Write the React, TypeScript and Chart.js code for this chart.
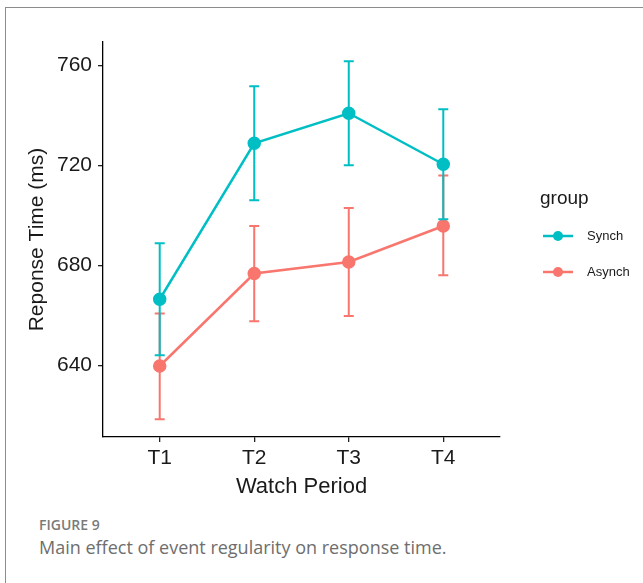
import React, { useEffect, useRef } from "react";
import { Chart, registerables } from "chart.js";

Chart.register(...registerables);

const categories = ["T1", "T2", "T3", "T4"];
const yTicks = [640, 680, 720, 760];
const seriesNames = ["Synch", "Asynch"];
const synchMean = [666.4, 728.8, 740.8, 720.4];
const synchLow = [644, 706, 720, 698.4];
const synchHigh = [688.8, 751.6, 761.6, 742.4];
const asynchMean = [639.7, 676.7, 681.3, 695.7];
const asynchLow = [618.4, 657.6, 659.7, 676];
const asynchHigh = [660.7, 695.7, 702.9, 715.9];

const TEAL = "#00BFC4";
const SALMON = "#F8766D";
const FONT = "'Liberation Sans', Arial, sans-serif";

const errLow = [synchLow, asynchLow];
const errHigh = [synchHigh, asynchHigh];

const errorBarPlugin = {
  id: "errorBars",
  beforeDatasetDraw(chart: any, args: any) {
    const i = args.index;
    const ds = chart.data.datasets[i];
    const xs = chart.scales.x;
    const ys = chart.scales.y;
    const ctx = chart.ctx;
    ctx.save();
    ctx.strokeStyle = ds.borderColor;
    ctx.lineWidth = 2;
    const lows = errLow[i];
    const highs = errHigh[i];
    for (let k = 0; k < lows.length; k++) {
      const x = xs.getPixelForValue(k);
      const y1 = ys.getPixelForValue(lows[k]);
      const y2 = ys.getPixelForValue(highs[k]);
      ctx.beginPath();
      ctx.moveTo(x, y1);
      ctx.lineTo(x, y2);
      ctx.moveTo(x - 5, y1);
      ctx.lineTo(x + 5, y1);
      ctx.moveTo(x - 5, y2);
      ctx.lineTo(x + 5, y2);
      ctx.stroke();
    }
    ctx.restore();
  },
};

const legendPlugin = {
  id: "customLegend",
  afterDraw(chart: any) {
    const ctx = chart.ctx;
    ctx.save();
    ctx.fillStyle = "#1a1a1a";
    ctx.textBaseline = "alphabetic";
    ctx.textAlign = "left";
    ctx.font = `19px ${FONT}`;
    ctx.fillText("group", 540, 204);
    const ys = [236, 272];
    const colors = [TEAL, SALMON];
    ctx.font = `13px ${FONT}`;
    for (let i = 0; i < 2; i++) {
      ctx.strokeStyle = colors[i];
      ctx.fillStyle = colors[i];
      ctx.lineWidth = 2.5;
      ctx.beginPath();
      ctx.moveTo(543, ys[i]);
      ctx.lineTo(573, ys[i]);
      ctx.stroke();
      ctx.beginPath();
      ctx.arc(558, ys[i], 5, 0, Math.PI * 2);
      ctx.fill();
      ctx.fillStyle = "#1a1a1a";
      ctx.textBaseline = "middle";
      ctx.fillText(seriesNames[i], 587, ys[i]);
    }
    ctx.restore();
  },
};

export default function App() {
  const ref = useRef<HTMLCanvasElement>(null);

  useEffect(() => {
    if (!ref.current) return;
    const chart = new Chart(ref.current, {
      type: "line",
      data: {
        datasets: [
          {
            label: seriesNames[0],
            data: synchMean.map((v, i) => ({ x: i, y: v })),
            borderColor: TEAL,
            backgroundColor: TEAL,
            borderWidth: 2.5,
            pointRadius: 5.5,
            pointHoverRadius: 5.5,
            tension: 0,
          },
          {
            label: seriesNames[1],
            data: asynchMean.map((v, i) => ({ x: i, y: v })),
            borderColor: SALMON,
            backgroundColor: SALMON,
            borderWidth: 2.5,
            pointRadius: 5.5,
            pointHoverRadius: 5.5,
            tension: 0,
          },
        ],
      },
      options: {
        animation: false,
        responsive: false,
        devicePixelRatio: 1,
        events: [],
        layout: { padding: { left: 21, top: 42, right: 143, bottom: 6 } },
        plugins: {
          legend: { display: false },
          tooltip: { enabled: false },
        },
        scales: {
          x: {
            type: "linear",
            min: -0.6,
            max: 3.6,
            afterFit: (s: any) => {
              s.height = 67;
            },
            afterBuildTicks: (s: any) => {
              s.ticks = categories.map((_, i) => ({ value: i }));
            },
            ticks: {
              callback: (v: any) => categories[v] ?? "",
              color: "#1a1a1a",
              font: { family: FONT, size: 21 },
              padding: 4,
              autoSkip: false,
              maxRotation: 0,
            },
            grid: {
              display: true,
              drawOnChartArea: false,
              drawTicks: true,
              tickLength: 5,
              color: "#222",
              lineWidth: 1.3,
            },
            border: { display: true, color: "#000", width: 1.3 },
            title: {
              display: true,
              text: "Watch Period",
              color: "#1a1a1a",
              font: { family: FONT, size: 22 },
              padding: { top: 4, bottom: 4 },
            },
          },
          y: {
            type: "linear",
            min: 611.3,
            max: 769.3,
            afterFit: (s: any) => {
              s.width = 82;
            },
            afterBuildTicks: (s: any) => {
              s.ticks = yTicks.map((v) => ({ value: v }));
            },
            ticks: {
              color: "#1a1a1a",
              font: { family: FONT, size: 21 },
              padding: 6,
            },
            grid: {
              display: true,
              drawOnChartArea: false,
              drawTicks: true,
              tickLength: 5,
              color: "#222",
              lineWidth: 1.3,
            },
            border: { display: true, color: "#000", width: 1.3 },
            title: {
              display: true,
              text: "Reponse Time (ms)",
              color: "#1a1a1a",
              font: { family: FONT, size: 21 },
              padding: { top: 4, bottom: 4 },
            },
          },
        },
      },
      plugins: [errorBarPlugin, legendPlugin],
    });
    return () => chart.destroy();
  }, []);

  return (
    <div
      style={{
        position: "fixed",
        left: 0,
        top: 0,
        width: 643,
        height: 583,
        overflow: "hidden",
        background: "#fff",
      }}
    >
      <div
        style={{
          position: "absolute",
          left: 5,
          top: 7,
          width: 700,
          height: 700,
          border: "1.5px solid #8c8c8c",
          boxSizing: "border-box",
        }}
      />
      <canvas
        ref={ref}
        width={643}
        height={510}
        style={{ position: "absolute", left: 0, top: 0, width: 643, height: 510 }}
      />
      <div
        style={{
          position: "absolute",
          left: 39,
          top: 516,
          fontFamily: "'Open Sans', sans-serif",
          fontSize: 14,
          fontWeight: 600,
          color: "#7a7a7a",
          lineHeight: "18px",
          whiteSpace: "nowrap",
        }}
      >
        FIGURE 9
      </div>
      <div
        style={{
          position: "absolute",
          left: 39,
          top: 536,
          fontFamily: "'Open Sans', sans-serif",
          fontSize: 18,
          color: "#6e6e6e",
          lineHeight: "22px",
          whiteSpace: "nowrap",
        }}
      >
        Main effect of event regularity on response time.
      </div>
    </div>
  );
}
